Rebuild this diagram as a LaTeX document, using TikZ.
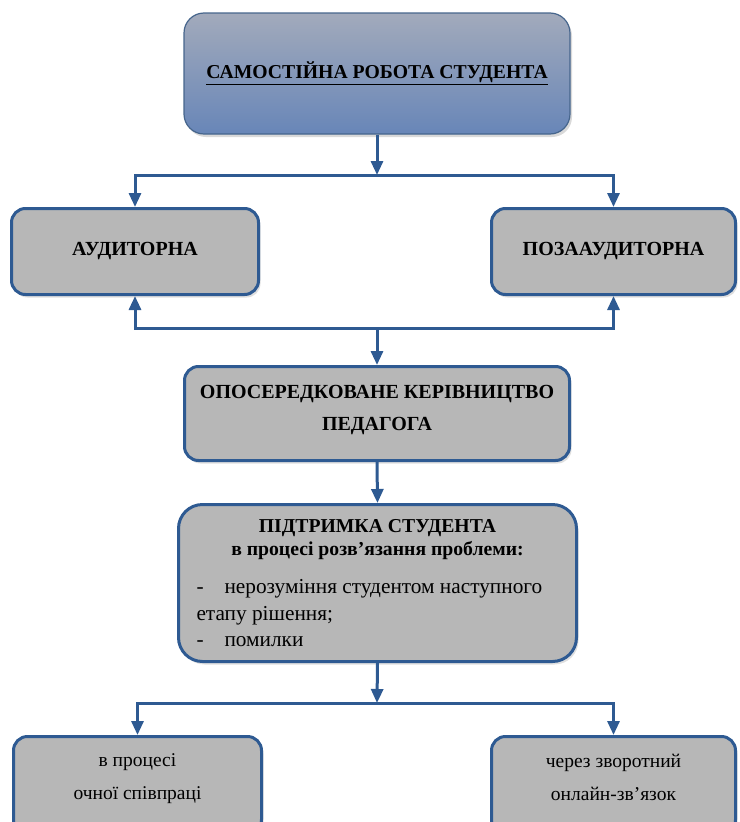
\documentclass[tikz,border=0pt]{standalone}
\usepackage{fontspec}
\setmainfont{Liberation Serif}
\usetikzlibrary{positioning,arrows.meta,shadows}

\definecolor{linkblue}{RGB}{46,90,146}
\definecolor{boxgray}{RGB}{183,183,183}
\definecolor{topfill}{RGB}{162,170,187}
\definecolor{botfill}{RGB}{104,134,184}

\begin{document}
\begin{tikzpicture}[
  x=1pt, y=-1pt,
  box/.style={rectangle, draw=linkblue, line width=3pt, rounded corners=14pt,
              fill=boxgray, align=center, font=\fontsize{19.5}{33}\selectfont,
              drop shadow={opacity=0.25, shadow xshift=2pt, shadow yshift=-3pt}},
  boldbox/.style={box, font=\fontsize{20}{32}\selectfont\bfseries},
  headbox/.style={rectangle, draw=linkblue!70!gray, line width=1.2pt, rounded corners=20pt,
              top color=topfill, bottom color=botfill, align=center,
              font=\fontsize{19.7}{32}\selectfont\bfseries,
              drop shadow={opacity=0.3, shadow xshift=2pt, shadow yshift=-3pt}},
  arrow/.style={-{Triangle[length=14pt,width=12pt]}, draw=linkblue, line width=3pt}
]
\clip (0,0) rectangle (739,822);

\node[headbox, minimum width=386, minimum height=121] (samost) at (377,73.5)
  {\underline{САМОСТІЙНА РОБОТА СТУДЕНТА}};

\node[boldbox, minimum width=247, minimum height=86] (aud) at (135,251.5) {АУДИТОРНА};
\node[boldbox, minimum width=244, minimum height=86] (pozaud) at (613.5,251.5) {ПОЗААУДИТОРНА};

\node[boldbox, minimum width=385, minimum height=94, text depth=11pt] (kerivn) at (377,413.5)
  {ОПОСЕРЕДКОВАНЕ КЕРІВНИЦТВО\\ПЕДАГОГА};

\node[box, rounded corners=24pt, minimum width=398, minimum height=157] (pidtr) at (377.5,583)
  {\begin{minipage}{362pt}
   \centering\fontsize{19.7}{23}\selectfont\bfseries
   ПІДТРИМКА СТУДЕНТА\\в процесі розв’язання проблеми:\par
   \vspace{12pt}
   \raggedright\mdseries\fontsize{21.3}{26.5}\selectfont
   -\hspace{21pt}нерозуміння студентом наступного\\
   етапу рішення;\\
   -\hspace{21pt}помилки
   \end{minipage}};

\node[box, anchor=north, minimum width=248, minimum height=97, text depth=16pt] (ochna) at (137.5,735)
  {в процесі\\очної співпраці};
\node[box, anchor=north, minimum width=244, minimum height=97, text depth=16pt] (online) at (613.5,735)
  {через зворотний\\онлайн-зв’язок};

\coordinate (j1) at (377,175);
\coordinate (j2) at (377,328);
\coordinate (j3) at (377,703);

\draw[arrow] (samost.south) -- (j1);
\draw[arrow] (j1) -| (aud.north);
\draw[arrow] (j1) -| (pozaud.north);

\draw[arrow] (j2) -| (aud.south);
\draw[arrow] (j2) -| (pozaud.south);
\draw[arrow] (j2) -- (kerivn.north);

\draw[arrow] (kerivn.south) -- (pidtr.north);

\draw[arrow] (pidtr.south) -- (j3);
\draw[arrow] (j3) -| (ochna.north);
\draw[arrow] (j3) -| (online.north);
\end{tikzpicture}
\end{document}
